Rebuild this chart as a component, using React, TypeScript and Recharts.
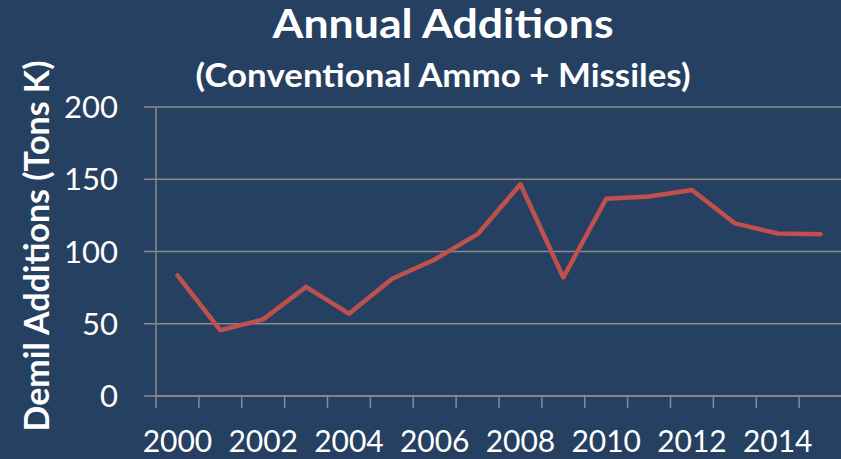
import React from 'react';
import { ComposedChart, Line, XAxis, YAxis, CartesianGrid } from 'recharts';

const years = [2000, 2001, 2002, 2003, 2004, 2005, 2006, 2007, 2008, 2009, 2010, 2011, 2012, 2013, 2014, 2015];
const additions = [83.5, 45.5, 53, 75.5, 57, 81, 94.5, 112, 146.5, 82, 136.5, 138, 142.5, 119.5, 112.5, 112];
const yTicks = [0, 50, 100, 150, 200];
const labelYears = [2000, 2002, 2004, 2006, 2008, 2010, 2012, 2014];
// tick marks sit on the boundaries between years
const edgeTicks = [...years.map((y) => y - 0.5), years[years.length - 1] + 0.5];
const xTicks = [...edgeTicks, ...labelYears].sort((a, b) => a - b);

const data = years.map((year, i) => ({ year, additions: additions[i] }));

const BG = '#264061';
const GRID = '#8a8a8a';
const RED = '#C0504D';
const FONT = 'Lato, "Open Sans", sans-serif';

const XTick = (props: any) => {
  const { x, y, payload } = props;
  const v = payload.value as number;
  if (v % 1 !== 0) {
    return <line x1={x} x2={x} y1={y} y2={y + 12} stroke={GRID} strokeWidth={1.5} />;
  }
  return (
    <text x={x} y={y + 56} textAnchor="middle" fill="#ffffff" fontSize={30} fontFamily={FONT}>
      {v}
    </text>
  );
};

const App: React.FC = () => {
  return (
    <div style={{ position: 'absolute', left: 0, top: 0, width: 841, height: 459, overflow: 'hidden', background: BG }}>
      <ComposedChart width={860} height={459} data={data} margin={{ top: 107, right: 18, left: 0, bottom: 0 }}>
        <CartesianGrid vertical={false} stroke={GRID} strokeWidth={1.5} />
        <XAxis
          dataKey="year"
          type="number"
          domain={[edgeTicks[0], edgeTicks[edgeTicks.length - 1]]}
          ticks={xTicks}
          interval={0}
          allowDataOverflow
          height={63}
          tickSize={0}
          tickMargin={0}
          tickLine={false}
          axisLine={{ stroke: GRID, strokeWidth: 1.5 }}
          tick={<XTick />}
        />
        <YAxis
          width={156}
          domain={[0, 200]}
          ticks={yTicks}
          tickSize={12}
          tickMargin={26}
          axisLine={{ stroke: GRID, strokeWidth: 1.5 }}
          tickLine={{ stroke: GRID, strokeWidth: 1.5 }}
          tick={{ fill: '#ffffff', fontSize: 31, fontFamily: FONT }}
        />
        <Line
          type="linear"
          dataKey="additions"
          stroke={RED}
          strokeWidth={4.5}
          strokeLinejoin="round"
          strokeLinecap="round"
          dot={false}
          isAnimationActive={false}
        />
      </ComposedChart>
      <svg width={841} height={459} style={{ position: 'absolute', left: 0, top: 0, pointerEvents: 'none' }}>
        <text x={443} y={38} textAnchor="middle" fill="#ffffff" fontFamily={FONT} fontWeight={700} fontSize={40} textLength={341} lengthAdjust="spacingAndGlyphs">
          Annual Additions
        </text>
        <text x={443} y={87} textAnchor="middle" fill="#ffffff" fontFamily={FONT} fontWeight={700} fontSize={33} textLength={495} lengthAdjust="spacingAndGlyphs">
          (Conventional Ammo + Missiles)
        </text>
        <text
          x={35}
          y={246}
          transform="rotate(-90 35 246)"
          textAnchor="middle"
          dominantBaseline="central"
          fill="#ffffff"
          fontFamily={FONT}
          fontWeight={700}
          fontSize={34}
        >
          Demil Additions (Tons K)
        </text>
      </svg>
    </div>
  );
};

export default App;
